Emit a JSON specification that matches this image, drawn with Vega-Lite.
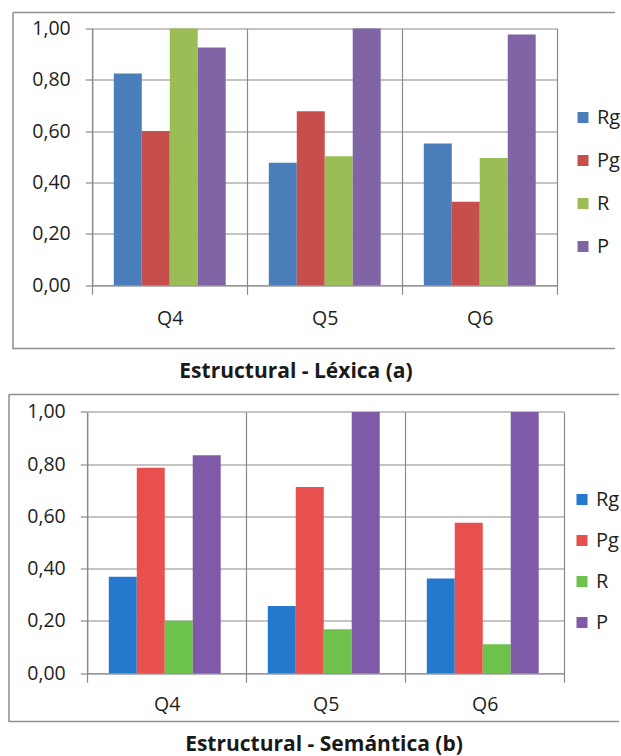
{
  "$schema": "https://vega.github.io/schema/vega-lite/v6.json",
  "background": "white",
  "padding": {"left": 8, "top": 11.5, "right": 0, "bottom": 0},
  "spacing": 46,
  "center": true,
  "bounds": "flush",
  "resolve": {"scale": {"color": "independent"}},
  "datasets": {
    "lexica": [
      {"pregunta": "Q4", "serie": "Rg", "valor": 0.825},
      {"pregunta": "Q4", "serie": "Pg", "valor": 0.601},
      {"pregunta": "Q4", "serie": "R", "valor": 1.0},
      {"pregunta": "Q4", "serie": "P", "valor": 0.926},
      {"pregunta": "Q5", "serie": "Rg", "valor": 0.477},
      {"pregunta": "Q5", "serie": "Pg", "valor": 0.678},
      {"pregunta": "Q5", "serie": "R", "valor": 0.503},
      {"pregunta": "Q5", "serie": "P", "valor": 1.0},
      {"pregunta": "Q6", "serie": "Rg", "valor": 0.552},
      {"pregunta": "Q6", "serie": "Pg", "valor": 0.325},
      {"pregunta": "Q6", "serie": "R", "valor": 0.496},
      {"pregunta": "Q6", "serie": "P", "valor": 0.977}
    ],
    "semantica": [
      {"pregunta": "Q4", "serie": "Rg", "valor": 0.369},
      {"pregunta": "Q4", "serie": "Pg", "valor": 0.786},
      {"pregunta": "Q4", "serie": "R", "valor": 0.201},
      {"pregunta": "Q4", "serie": "P", "valor": 0.834},
      {"pregunta": "Q5", "serie": "Rg", "valor": 0.257},
      {"pregunta": "Q5", "serie": "Pg", "valor": 0.713},
      {"pregunta": "Q5", "serie": "R", "valor": 0.168},
      {"pregunta": "Q5", "serie": "P", "valor": 1.0},
      {"pregunta": "Q6", "serie": "Rg", "valor": 0.363},
      {"pregunta": "Q6", "serie": "Pg", "valor": 0.576},
      {"pregunta": "Q6", "serie": "R", "valor": 0.111},
      {"pregunta": "Q6", "serie": "P", "valor": 1.0}
    ]
  },
  "config": {
    "font": "Open Sans",
    "axis": {
      "domainColor": "#8a8a8a",
      "domainWidth": 1.2,
      "tickColor": "#8a8a8a",
      "tickWidth": 1.2,
      "gridColor": "#8a8a8a",
      "gridOpacity": 1,
      "gridWidth": 1.2,
      "labelFont": "Open Sans",
      "labelFontSize": 19.5,
      "labelColor": "#1e1e1e"
    },
    "legend": {
      "padding": 0,
      "labelFont": "Open Sans",
      "labelFontSize": 20,
      "labelColor": "#1e1e1e",
      "symbolType": "square",
      "symbolSize": 121,
      "symbolStrokeWidth": 0,
      "labelOffset": 4,
      "rowPadding": 23
    },
    "title": {
      "font": "Open Sans",
      "fontSize": 21,
      "fontWeight": "bold",
      "color": "#1a1a1a"
    }
  },
  "vconcat": [
    {
      "data": {"name": "lexica"},
      "width": 602,
      "height": 336,
      "view": {"fill": "white", "stroke": "#8f8f8f", "strokeWidth": 1.5, "strokeDash": [602, 336, 938, 0]},
      "title": {"text": "Estructural - Léxica (a)", "orient": "bottom", "anchor": "middle", "frame": "group", "baseline": "alphabetic", "offset": 29, "dx": -18},
      "mark": {"type": "bar"},
      "encoding": {
        "x": {
          "field": "pregunta", "type": "nominal", "sort": ["Q4", "Q5", "Q6"],
          "scale": {"range": [79.25, 544.25], "paddingInner": 0, "paddingOuter": 0},
          "axis": {"title": null, "orient": "top", "offset": -272.75, "tickBand": "extent", "tickSize": -9, "labelPadding": -30, "labelBaseline": "alphabetic", "labelAngle": 0, "grid": true}
        },
        "xOffset": {
          "field": "serie", "type": "nominal", "sort": ["Rg", "Pg", "R", "P"],
          "scale": {"paddingInner": 0, "paddingOuter": 0.77}
        },
        "y": {
          "field": "valor", "type": "quantitative",
          "scale": {"domain": [0, 1], "range": [272.75, 16.05], "nice": false},
          "axis": {"title": null, "offset": -79.25, "values": [0, 0.2, 0.4, 0.6, 0.8, 1], "labelExpr": "replace(format(datum.value, '.2f'), '.', ',')", "tickSize": 7, "labelPadding": 15, "grid": true}
        },
        "color": {
          "field": "serie", "type": "nominal",
          "scale": {"domain": ["Rg", "Pg", "R", "P"], "range": ["#4a7ebb", "#c64f4c", "#9bbd56", "#8064a6"]},
          "legend": {"title": null, "orient": "none", "legendX": 560, "legendY": 95}
        }
      }
    },
    {
      "data": {"name": "semantica"},
      "width": 610,
      "height": 327,
      "view": {"fill": "white", "stroke": "#8f8f8f", "strokeWidth": 1.5, "strokeDash": [610, 327, 937, 0]},
      "title": {"text": "Estructural - Semántica (b)", "orient": "bottom", "anchor": "middle", "frame": "group", "baseline": "alphabetic", "offset": 29, "dx": 10},
      "mark": {"type": "bar"},
      "encoding": {
        "x": {
          "field": "pregunta", "type": "nominal", "sort": ["Q4", "Q5", "Q6"],
          "scale": {"range": [78.25, 555.25], "paddingInner": 0, "paddingOuter": 0},
          "axis": {"title": null, "orient": "top", "offset": -278.75, "tickBand": "extent", "tickSize": -9, "labelPadding": -28, "labelBaseline": "alphabetic", "labelAngle": 0, "grid": true}
        },
        "xOffset": {
          "field": "serie", "type": "nominal", "sort": ["Rg", "Pg", "R", "P"],
          "scale": {"paddingInner": 0, "paddingOuter": 0.74}
        },
        "y": {
          "field": "valor", "type": "quantitative",
          "scale": {"domain": [0, 1], "range": [278.75, 17.45], "nice": false},
          "axis": {"title": null, "offset": -78.25, "values": [0, 0.2, 0.4, 0.6, 0.8, 1], "labelExpr": "replace(format(datum.value, '.2f'), '.', ',')", "tickSize": 7, "labelPadding": 15, "grid": true}
        },
        "color": {
          "field": "serie", "type": "nominal",
          "scale": {"domain": ["Rg", "Pg", "R", "P"], "range": ["#2479cf", "#e84f4f", "#6cc24a", "#7e5aa8"]},
          "legend": {"title": null, "orient": "none", "legendX": 563, "legendY": 95, "rowPadding": 21}
        }
      }
    }
  ]
}
